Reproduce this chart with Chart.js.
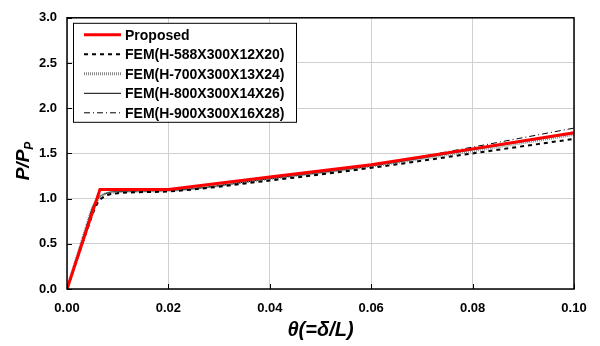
<!DOCTYPE html>
<html>
<head>
<meta charset="utf-8">
<script src="https://cdn.jsdelivr.net/npm/chart.js@4.4.1/dist/chart.umd.min.js"></script>
<style>
  html, body { margin: 0; padding: 0; background: #fff; }
  #wrap { width: 600px; height: 346px; }
</style>
</head>
<body>
<div id="wrap"><canvas id="c" width="600" height="346"></canvas></div>
<script>
// rotation values
const theta = [0, 0.002, 0.004, 0.005, 0.006, 0.007, 0.008, 0.01, 0.02, 0.04, 0.06, 0.08, 0.1];
const proposedX = [0, 0.0065, 0.02, 0.04, 0.06, 0.08, 0.1];
const proposedY = [0, 1.1, 1.1, 1.24, 1.375, 1.55, 1.73];
const fem588 = [0, 0.33, 0.66, 0.82, 0.95, 1.01, 1.04, 1.06, 1.08, 1.20, 1.34, 1.50, 1.66];
const fem700 = [0, 0.36, 0.72, 0.89, 0.99, 1.04, 1.06, 1.075, 1.09, 1.22, 1.36, 1.53, 1.71];
const fem800 = [0, 0.36, 0.72, 0.90, 1.00, 1.04, 1.065, 1.08, 1.09, 1.22, 1.36, 1.54, 1.72];
const fem900 = [0, 0.36, 0.72, 0.89, 0.99, 1.04, 1.06, 1.075, 1.09, 1.22, 1.37, 1.57, 1.78];
const labels = ['Proposed', 'FEM(H-588X300X12X20)', 'FEM(H-700X300X13X24)', 'FEM(H-800X300X14X26)', 'FEM(H-900X300X16X28)'];

const pts = (xs, ys) => xs.map((x, i) => ({ x: x, y: ys[i] }));
const FONT = '"Liberation Sans", Arial, sans-serif';

const datasets = [
  { label: labels[0], data: pts(proposedX, proposedY), borderColor: '#ff0000', borderWidth: 3, order: 0 },
  { label: labels[1], data: pts(theta, fem588), borderColor: '#000', borderWidth: 2, borderDash: [4, 4], order: 1 },
  { label: labels[2], data: pts(theta, fem700), borderColor: '#888', borderWidth: 3, borderDash: [1, 1], order: 2 },
  { label: labels[3], data: pts(theta, fem800), borderColor: '#000', borderWidth: 1, order: 3 },
  { label: labels[4], data: pts(theta, fem900), borderColor: '#000', borderWidth: 1, borderDash: [6, 3, 1, 3], order: 4 }
];
datasets.forEach(d => { d.pointRadius = 0; d.fill = false; d.cubicInterpolationMode = 'monotone'; });
datasets[0].cubicInterpolationMode = 'default';
datasets[0].tension = 0;

// frame, inward ticks and legend box
const decor = {
  id: 'decor',
  afterDraw(chart) {
    const ctx = chart.ctx;
    const a = chart.chartArea;
    const xs = chart.scales.x, ys = chart.scales.y;
    ctx.save();
    ctx.strokeStyle = '#000';
    ctx.lineWidth = 1.5;
    ctx.strokeRect(a.left, a.top, a.right - a.left, a.bottom - a.top);
    ctx.lineWidth = 1;
    ctx.beginPath();
    for (let v = 0; v <= 3.0001; v += 0.5) {
      const y = Math.round(ys.getPixelForValue(v)) + 0.5;
      ctx.moveTo(a.left, y); ctx.lineTo(a.left + 5, y);
    }
    for (let v = 0; v <= 0.10001; v += 0.02) {
      const x = Math.round(xs.getPixelForValue(v)) + 0.5;
      ctx.moveTo(x, a.bottom); ctx.lineTo(x, a.bottom - 5);
    }
    ctx.stroke();

    // legend
    const lx = a.left + 6, ly = a.top + 5, lw = 223, lh = 99;
    ctx.fillStyle = '#fff';
    ctx.fillRect(lx, ly, lw, lh);
    ctx.strokeStyle = '#000';
    ctx.lineWidth = 1;
    ctx.strokeRect(lx + 0.5, ly + 0.5, lw, lh);
    ctx.font = 'bold 14px ' + FONT;
    ctx.textBaseline = 'middle';
    chart.data.datasets.forEach((d, i) => {
      const y = ly + 12 + i * 19.5;
      ctx.beginPath();
      ctx.strokeStyle = d.borderColor;
      ctx.lineWidth = d.borderWidth;
      ctx.setLineDash(d.borderDash || []);
      ctx.moveTo(lx + 11, y); ctx.lineTo(lx + 48, y);
      ctx.stroke();
      ctx.setLineDash([]);
      ctx.fillStyle = '#000';
      ctx.fillText(d.label, lx + 52, y + 1);
    });
    ctx.restore();
  }
};

new Chart(document.getElementById('c'), {
  type: 'line',
  data: { datasets: datasets },
  plugins: [decor],
  options: {
    responsive: false,
    animation: false,
    layout: { padding: { top: 16, right: 26, left: 0, bottom: 0 } },
    plugins: { legend: { display: false }, tooltip: { enabled: false } },
    scales: {
      x: {
        type: 'linear', min: 0, max: 0.1,
        afterFit(s) { s.height = 57; },
        grid: { color: '#d0d0d0', drawTicks: false },
        border: { display: false },
        ticks: { stepSize: 0.02, padding: 12, color: '#000', font: { family: FONT, weight: 'bold', size: 13 },
          callback: v => v.toFixed(2) },
        title: { display: true, text: 'θ(=δ/L)', color: '#000', padding: { top: -2 },
          font: { family: FONT, weight: 'bold', style: 'italic', size: 20 } }
      },
      y: {
        type: 'linear', min: 0, max: 3,
        afterFit(s) { s.width = 67; },
        grid: { color: '#d0d0d0', drawTicks: false },
        border: { display: false },
        ticks: { stepSize: 0.5, padding: 10, color: '#000', font: { family: FONT, weight: 'bold', size: 13 },
          callback: v => v.toFixed(1) },
        title: { display: false }
      }
    }
  }
});

// y title with subscript drawn as text after the chart
(function () {
  const cv = document.getElementById('c');
  const ctx = cv.getContext('2d');
  ctx.save();
  ctx.translate(22, 161);
  ctx.rotate(-Math.PI / 2);
  ctx.fillStyle = '#000';
  ctx.textBaseline = 'alphabetic';
  ctx.font = 'bold italic 19px ' + FONT;
  const main = 'P/P';
  const w = ctx.measureText(main).width;
  ctx.font = 'bold italic 12px ' + FONT;
  const sw = ctx.measureText('P').width;
  const total = w + sw;
  ctx.font = 'bold italic 19px ' + FONT;
  ctx.fillText(main, -total / 2, 7);
  ctx.font = 'bold italic 12px ' + FONT;
  ctx.fillText('P', -total / 2 + w, 11);
  ctx.restore();
})();
</script>
</body>
</html>
